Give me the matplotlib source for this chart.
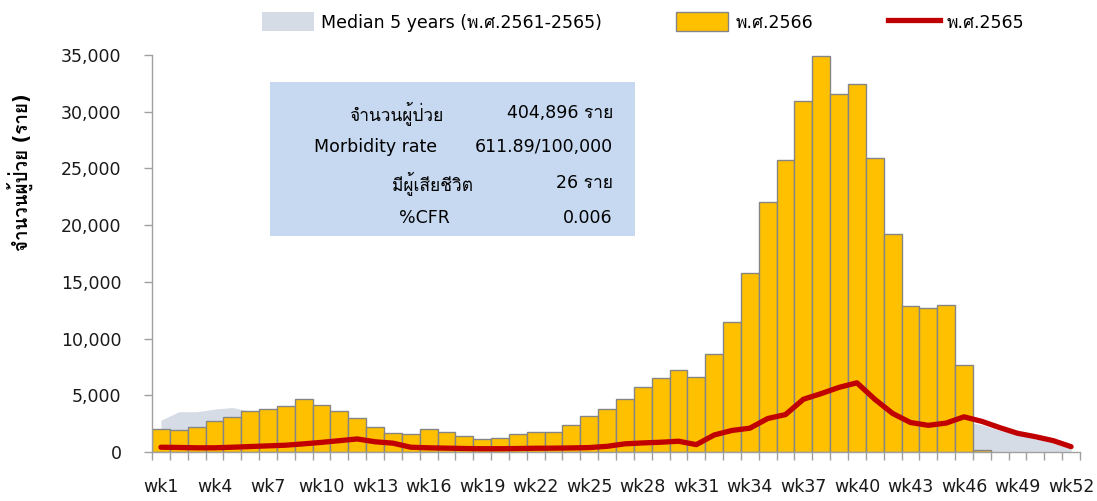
import numpy as np
import matplotlib
matplotlib.use('Agg')
import matplotlib.pyplot as plt
from matplotlib import font_manager, ft2font
from matplotlib.patches import Patch, Rectangle
from matplotlib.lines import Line2D
from matplotlib.ticker import FixedLocator, StrMethodFormatter

weeks = np.arange(1, 53)
week_labels = ['wk%d' % w for w in range(1, 53, 3)]

cases_2566 = [2000, 1900, 2200, 2700, 3100, 3650, 3750, 4050, 4650, 4150,
              3600, 3000, 2200, 1700, 1550, 2050, 1750, 1400, 1150, 1250,
              1550, 1800, 1800, 2350, 3150, 3750, 4700, 5750, 6550, 7200,
              6650, 8650, 11500, 15800, 22050, 25750, 30950, 34950, 31550, 32450,
              25950, 19200, 12850, 12700, 13000, 7650, 150,
              None, None, None, None, None]

cases_2565 = [420, 400, 370, 370, 420, 480, 540, 600, 720, 850,
              1000, 1150, 900, 780, 420, 370, 340, 310, 290, 290,
              310, 330, 340, 360, 390, 500, 720, 800, 860, 950,
              650, 1500, 1900, 2100, 2950, 3300, 4650, 5150, 5700, 6100,
              4650, 3400, 2600, 2350, 2550, 3100, 2700, 2150, 1650, 1350,
              1000, 470]

median_5y = [2800, 3550, 3550, 3780, 3920, 3600, 3500, 3300, 3000, 2700,
             2400, 2000, 1700, 1450, 1300, 1250, 1150, 1100, 1000, 1050,
             1150, 1350, 1550, 1750, 2000, 2300, 2600, 2900, 3100, 3300,
             3400, 3500, 3600, 3600, 3500, 3450, 3400, 3300, 3200, 3100,
             3000, 2950, 2900, 2850, 2800, 2700, 2400, 1900, 1500, 1150,
             800, 250]

box_labels = ['จำนวนผู้ป่วย', 'Morbidity rate', 'มีผู้เสียชีวิต', '%CFR']
box_values = ['404,896 ราย', '611.89/100,000', '26 ราย', '0.006']


def find_thai_font():
    for f in font_manager.fontManager.ttflist:
        try:
            if 0x0E08 in ft2font.FT2Font(f.fname).get_charmap():
                return f.name
        except Exception:
            pass
    return None


thai = find_thai_font()
families = ['DejaVu Sans'] + ([thai] if thai else [])
plt.rcParams['font.family'] = families
plt.rcParams['font.size'] = 12

W, H = 1097, 501


def px(x, y):
    return x / W, 1 - y / H


fig = plt.figure(figsize=(W / 100, H / 100), dpi=100)
ax = fig.add_axes([152 / W, (H - 452) / H, 928 / W, 397 / H])

bars = np.array([np.nan if v is None else v for v in cases_2566], dtype=float)

ax.fill_between(weeks, median_5y, 0, color='#D6DCE5', lw=0, zorder=1)
ax.bar(weeks, bars, width=1.0, color='#FFC000', edgecolor='#858585',
       linewidth=1.0, zorder=2)
ax.plot(weeks, cases_2565, color='#C00000', lw=3.8, solid_capstyle='round',
        solid_joinstyle='round', zorder=3)

ax.set_xlim(0.5, 52.5)
ax.set_ylim(0, 35000)
ax.set_yticks(np.arange(0, 35001, 5000))
ax.yaxis.set_major_formatter(StrMethodFormatter('{x:,.0f}'))

ax.set_xticks(np.arange(1, 53, 3))
ax.set_xticklabels(week_labels)
ax.xaxis.set_minor_locator(FixedLocator(np.arange(0.5, 53, 1)))
ax.tick_params(axis='x', which='major', length=0, pad=19, labelsize=12.5,
               labelcolor='#1a1a1a')
ax.tick_params(axis='x', which='minor', length=6, width=1, color='#A0A0A0')
ax.tick_params(axis='y', length=6, width=1, color='#A0A0A0', pad=16,
               labelsize=12.5, labelcolor='#1a1a1a')

for s in ['top', 'right']:
    ax.spines[s].set_visible(False)
for s in ['left', 'bottom']:
    ax.spines[s].set_color('#A0A0A0')
    ax.spines[s].set_linewidth(1)

fig.text(*px(20, 172), 'จำนวนผู้ป่วย (ราย)', rotation=90, ha='center',
         va='center', fontsize=13.5, fontweight='bold')

# summary box
x0, y0 = px(270, 236)
x1, y1 = px(635, 82)
fig.patches.append(Rectangle((x0, y0), x1 - x0, y1 - y0, transform=fig.transFigure,
                             facecolor='#C6D9F1', edgecolor='none', zorder=0))
label_right = [443, 437, 473, 450]
rows_y = [113, 147, 183, 218]
for lab, val, xr, yy in zip(box_labels, box_values, label_right, rows_y):
    fig.text(*px(xr, yy), lab, ha='right', va='center', fontsize=12.5)
    fig.text(*px(613, yy), val, ha='right', va='center', fontsize=12.5)

handles = [
    Patch(facecolor='#D6DCE5', edgecolor='none'),
    Patch(facecolor='#FFC000', edgecolor='#858585'),
    Line2D([], [], color='#C00000', lw=3.8),
]
names = ['Median 5 years (พ.ศ.2561-2565)', 'พ.ศ.2566', 'พ.ศ.2565']
fig.legend(handles, names, loc='center', bbox_to_anchor=px(643, 22), ncol=3,
           frameon=False, fontsize=12.5, handlelength=3.0, handleheight=1.25,
           handletextpad=0.4, columnspacing=4.3)

fig.savefig('out.png', dpi=100)
